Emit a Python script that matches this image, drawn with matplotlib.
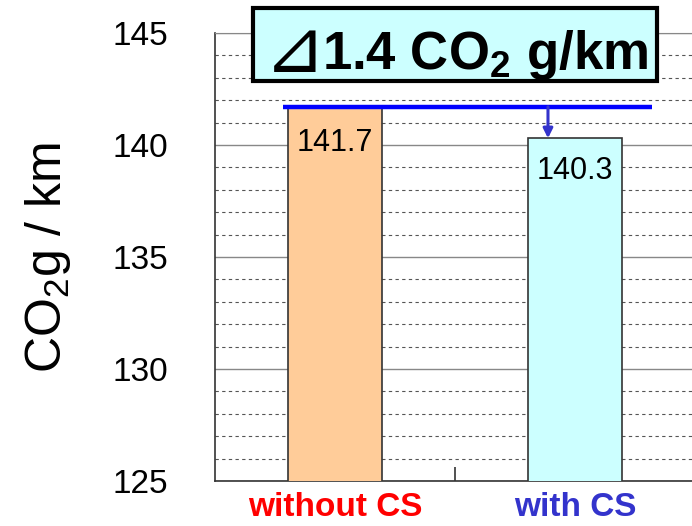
import matplotlib
matplotlib.use('Agg')

import numpy as np
import matplotlib.pyplot as plt
from matplotlib.patches import Rectangle
from matplotlib.ticker import MultipleLocator

plt.rcParams['font.family'] = ['Liberation Sans', 'DejaVu Sans']
plt.rcParams['mathtext.fontset'] = 'custom'
plt.rcParams['mathtext.rm'] = 'Liberation Sans'
plt.rcParams['mathtext.bf'] = 'Liberation Sans:bold'

categories = ['without CS', 'with CS']
values = [141.7, 140.3]
bar_colors = ['#FFCC99', '#CCFFFF']
label_colors = ['#FF0000', '#3333CC']
delta = round(values[0] - values[1], 1)

W, H = 692, 526
fig = plt.figure(figsize=(W / 100, H / 100), dpi=100)
ax = fig.add_axes([0.3107, 0.0856, 0.6936, 0.8517])

x = np.arange(len(categories))
ax.bar(x, values, width=0.395, color=bar_colors, edgecolor='#333333',
       linewidth=1.2, zorder=3)

ax.set_ylim(125, 145)
ax.set_xlim(-0.5, 1.5)
ax.yaxis.set_major_locator(MultipleLocator(5))
ax.yaxis.set_minor_locator(MultipleLocator(1))
ax.grid(which='major', axis='y', color='#888888', linewidth=1.0, linestyle='-', zorder=1)
ax.grid(which='minor', axis='y', color='#555555', linewidth=0.8, linestyle=(0, (3, 3)), zorder=1)

ax.set_yticks([125, 130, 135, 140, 145])
ax.set_yticklabels(['125', '130', '135', '140', '145'])
ax.tick_params(axis='y', which='major', length=0, pad=34, labelsize=24)
ax.tick_params(axis='y', which='minor', length=0)

ax.set_xticks(x)
ax.set_xticklabels(categories, fontsize=24, fontweight='bold')
for t, c in zip(ax.get_xticklabels(), label_colors):
    t.set_color(c)
ax.tick_params(axis='x', which='major', length=0, pad=8)
ax.set_xticks([0.5], minor=True)
ax.tick_params(axis='x', which='minor', direction='in', length=10, width=1.2, color='#333333')

ax.spines['right'].set_visible(False)
ax.spines['top'].set_color('#888888')
ax.spines['left'].set_color('#333333')
ax.spines['bottom'].set_color('#333333')
ax.spines['left'].set_linewidth(1.2)
ax.spines['bottom'].set_linewidth(1.2)

ax.set_ylabel('CO$_2$g / km', fontsize=36, labelpad=28)

# value labels inside bars
ax.text(x[0], 140.07, '{:.1f}'.format(values[0]), ha='center', va='center',
        fontsize=22, zorder=5)
ax.text(x[1], 138.82, '{:.1f}'.format(values[1]), ha='center', va='center',
        fontsize=22, zorder=5)

# reference line and arrow
ax.hlines(values[0], -0.217, 1.32, color='#0000FF', linewidth=3.2, zorder=6)
ax.annotate('', xy=(0.8875, values[1]), xytext=(0.8875, values[0]),
            arrowprops=dict(arrowstyle='-|>', color='#3333CC', lw=2.2,
                            mutation_scale=14, shrinkA=0, shrinkB=0), zorder=6)

# delta box above the plot (figure pixel positions)
def fx(px):
    return px / W

def fy(py):
    return 1 - py / H

fig.patches.append(Rectangle((fx(253), fy(81)), fx(657) - fx(253), fy(8) - fy(81),
                             transform=fig.transFigure, facecolor='#CCFFFF',
                             edgecolor='black', linewidth=3, zorder=7))
fig.text(fx(264), fy(72), '\u22bf', family=['DejaVu Sans'], fontsize=53,
         ha='left', va='baseline', zorder=8)
fig.text(fx(648), fy(69), '{} CO$_\\mathbf{{2}}$ g/km'.format(delta),
         ha='right', va='baseline', fontsize=38, fontweight='bold', zorder=8)

fig.savefig('out.png', dpi=100)
